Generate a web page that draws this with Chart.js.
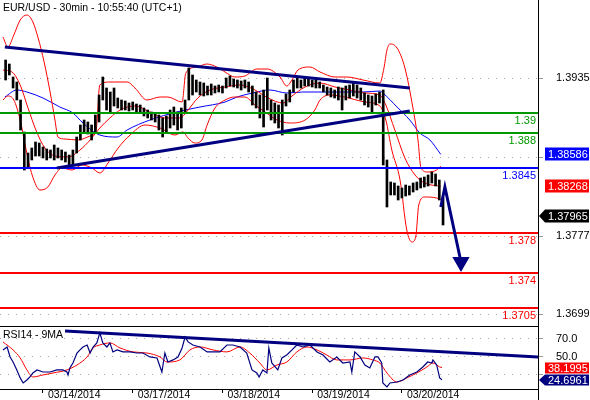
<!DOCTYPE html>
<html>
<head>
<meta charset="utf-8">
<script src="https://cdn.jsdelivr.net/npm/chart.js@4.4.1/dist/chart.umd.min.js"></script>
<style>
  html, body { margin: 0; padding: 0; background: #fff; }
  #wrap { position: relative; width: 590px; height: 400px; overflow: hidden; font-family: "Liberation Sans", Arial, sans-serif; }
  #main { position: absolute; left: 0; top: 0; }
  #rsi { position: absolute; left: 0; top: 326px; }
  .lbl { position: absolute; left: 3px; font-size: 10.5px; color: #000; white-space: nowrap; }
</style>
</head>
<body>
<div id="wrap">
  <canvas id="main" width="590" height="326"></canvas>
  <canvas id="rsi" width="590" height="74"></canvas>
  <div class="lbl" style="top:1px">EUR/USD - 30min - 10:55:40 (UTC+1)</div>
  <div class="lbl" style="top:328px">RSI14 - 9MA</div>
</div>
<script>
// Час у годинах від 03/14 00:00 (вихідні пропущено)
const dayLabels = ['03/14/2014', '03/17/2014', '03/18/2014', '03/19/2014', '03/20/2014'];
const dayHours = [0, 24, 48, 72, 96];
const priceTicks = [1.3699, 1.3777, 1.3856, 1.3935];
const rsiTicks = [30, 50, 70];

// Годинні бари: перший бар = -10 год.
const barStart = -10;
const priceHigh = [
  1.3953, 1.3949, 1.3936, 1.3931, 1.3913, 1.3881, 1.3860, 1.3865, 1.3871, 1.3870,
  1.3866, 1.3864, 1.3863, 1.3868, 1.3865, 1.3863, 1.3861, 1.3858, 1.3863, 1.3876,
  1.3888, 1.3893, 1.3891, 1.3888, 1.3898, 1.3918, 1.3936, 1.3925, 1.3921, 1.3925,
  1.3915, 1.3913, 1.3912, 1.3910, 1.3911, 1.3909, 1.3908, 1.3905, 1.3903, 1.3901,
  1.3900, 1.3898, 1.3895, 1.3897, 1.3903, 1.3906, 1.3901, 1.3905, 1.3913, 1.3945,
  1.3938, 1.3933, 1.3931, 1.3930, 1.3927, 1.3929, 1.3927, 1.3928, 1.3927, 1.3935,
  1.3937, 1.3934, 1.3933, 1.3932, 1.3933, 1.3931, 1.3927, 1.3921, 1.3918, 1.3923,
  1.3935, 1.3913, 1.3910, 1.3908, 1.3913, 1.3919, 1.3923, 1.3933, 1.3935, 1.3933,
  1.3935, 1.3934, 1.3933, 1.3933, 1.3931, 1.3928, 1.3926, 1.3925, 1.3923, 1.3926,
  1.3925, 1.3927, 1.3928, 1.3930, 1.3928, 1.3925, 1.3920, 1.3918, 1.3917, 1.3919,
  1.3921, 1.3923, 1.3853, 1.3831, 1.3830, 1.3827, 1.3825, 1.3828, 1.3827, 1.3830,
  1.3831, 1.3835, 1.3836, 1.3838, 1.3841, 1.3839, 1.3833, 1.3815
];
const priceLow = [
  1.3933, 1.3938, 1.3925, 1.3913, 1.3883, 1.3843, 1.3846, 1.3853, 1.3857, 1.3857,
  1.3855, 1.3853, 1.3855, 1.3853, 1.3855, 1.3853, 1.3851, 1.3847, 1.3848, 1.3860,
  1.3873, 1.3880, 1.3879, 1.3873, 1.3880, 1.3891, 1.3913, 1.3903, 1.3901, 1.3907,
  1.3905, 1.3903, 1.3903, 1.3902, 1.3903, 1.3901, 1.3901, 1.3897, 1.3895, 1.3893,
  1.3891, 1.3883, 1.3876, 1.3881, 1.3885, 1.3888, 1.3883, 1.3885, 1.3901, 1.3913,
  1.3918, 1.3921, 1.3918, 1.3917, 1.3918, 1.3918, 1.3920, 1.3921, 1.3920, 1.3925,
  1.3927, 1.3926, 1.3925, 1.3923, 1.3925, 1.3921, 1.3908, 1.3905, 1.3895, 1.3886,
  1.3903, 1.3893, 1.3890, 1.3885, 1.3878, 1.3907, 1.3911, 1.3921, 1.3925, 1.3925,
  1.3927, 1.3927, 1.3926, 1.3925, 1.3925, 1.3921, 1.3918, 1.3916, 1.3915, 1.3913,
  1.3903, 1.3913, 1.3915, 1.3917, 1.3915, 1.3913, 1.3908, 1.3906, 1.3901, 1.3908,
  1.3910, 1.3848, 1.3806, 1.3818, 1.3818, 1.3813, 1.3815, 1.3817, 1.3818, 1.3821,
  1.3823, 1.3825, 1.3826, 1.3827, 1.3830, 1.3827, 1.3813, 1.3788
];

// Смуги Боллінджера та ковзна середня: [година, ціна]
const bbUpper = [
  [-10.7, 1.3976], [-9.4, 1.3966], [-7.8, 1.3978], [-6.1, 1.3993], [-4.3, 1.3998], [-2.7, 1.3991],
  [-1.3, 1.3975], [0.3, 1.3951], [1.9, 1.3921], [3.2, 1.3893], [4.0, 1.3876], [5.9, 1.3874],
  [9.4, 1.3873], [12.6, 1.3877], [14.2, 1.3883], [15.2, 1.3928], [17.9, 1.3931], [22.5, 1.3931],
  [24.6, 1.3925], [27.8, 1.3913], [31.3, 1.3916], [33.4, 1.3916], [37.2, 1.3911], [38.2, 1.3940],
  [41.2, 1.3946], [43.8, 1.3949], [46.5, 1.3946], [48.7, 1.3941], [51.3, 1.3936], [54.0, 1.3937],
  [57.2, 1.3944], [59.9, 1.3944], [63.4, 1.3936], [65.2, 1.3927], [66.6, 1.3933], [68.2, 1.3943],
  [71.4, 1.3946], [74.1, 1.3941], [78.1, 1.3936], [81.3, 1.3936], [85.6, 1.3933], [90.1, 1.3930],
  [91.2, 1.3945], [92.0, 1.3963], [92.8, 1.3969], [94.7, 1.3965], [96.8, 1.3945], [98.9, 1.3906],
  [100.3, 1.3873], [101.1, 1.3845], [102.9, 1.3841], [105.3, 1.3843], [106.4, 1.3847]
];
const bbMid = [
  [-10.7, 1.3943], [-8.3, 1.3941], [-6.1, 1.3928], [-4.0, 1.3905], [-1.9, 1.3883], [0.5, 1.3865],
  [3.2, 1.3857], [6.7, 1.3856], [9.9, 1.3863], [12.6, 1.3873], [15.2, 1.3885], [17.9, 1.3895],
  [20.6, 1.3903], [24.6, 1.3907], [28.6, 1.3901], [32.6, 1.3895], [36.6, 1.3895], [38.8, 1.3903],
  [41.4, 1.3915], [44.7, 1.3923], [48.7, 1.3926], [52.7, 1.3928], [56.7, 1.3923], [60.2, 1.3915],
  [64.2, 1.3910], [66.6, 1.3917], [70.1, 1.3926], [74.1, 1.3930], [78.1, 1.3926], [82.1, 1.3923],
  [86.1, 1.3920], [90.1, 1.3918], [91.7, 1.3908], [94.1, 1.3883], [96.8, 1.3855], [99.5, 1.3838],
  [102.1, 1.3830], [106.4, 1.38268]
];
const bbLower = [
  [-10.7, 1.3913], [-9.4, 1.3917], [-7.8, 1.3913], [-6.1, 1.3893], [-4.5, 1.3863], [-2.9, 1.3838],
  [-0.8, 1.3823], [1.3, 1.3826], [3.2, 1.3838], [5.1, 1.3845], [7.8, 1.3843], [10.4, 1.3848],
  [13.1, 1.3845], [15.2, 1.3840], [17.4, 1.3850], [20.1, 1.3865], [23.3, 1.3878], [27.3, 1.3888],
  [31.3, 1.3885], [35.3, 1.3878], [37.4, 1.3881], [38.8, 1.3875], [40.6, 1.3870], [42.5, 1.3873],
  [43.9, 1.3888], [46.0, 1.3905], [48.7, 1.3913], [51.3, 1.3916], [54.0, 1.3916], [56.7, 1.3908],
  [59.4, 1.3901], [62.6, 1.3893], [66.0, 1.3890], [70.1, 1.3893], [72.7, 1.3903], [74.1, 1.3913],
  [76.7, 1.3918], [80.7, 1.3916], [86.1, 1.3911], [90.1, 1.3907], [91.7, 1.3893], [93.3, 1.3863],
  [95.5, 1.3833], [97.3, 1.3783], [98.7, 1.3771], [99.7, 1.3776], [100.5, 1.3808], [102.1, 1.3816],
  [105.3, 1.3815], [106.4, 1.3813]
];
const maBlue = [
  [-10.2, 1.3916], [-7.0, 1.3923], [-4.3, 1.3921], [0, 1.3915], [4.5, 1.3906], [8.0, 1.3900],
  [10.7, 1.3890], [15.2, 1.3878], [19.8, 1.3876], [22.5, 1.3883], [28.6, 1.3893], [35.8, 1.3901],
  [42.0, 1.3906], [48.7, 1.3911], [51.9, 1.3916], [56.1, 1.3920], [60.7, 1.3923], [65.2, 1.3920],
  [69.5, 1.3921], [78.1, 1.3921], [85.6, 1.3921], [90.1, 1.3922], [90.9, 1.3920], [94.7, 1.3906],
  [98.1, 1.3893], [100.8, 1.3880], [103.5, 1.3873], [106.4, 1.38586]
];

// Лінії тренду, стрілка та рівні
const upperTrend = [[-10.2, 1.3966], [98.1, 1.3925]];
const lowerTrend = [[3.7, 1.3845], [98.1, 1.3902]];
const arrowPath = [[106.4, 1.3806], [107.5, 1.3826], [111.8, 1.3751]];
const levelValues = [1.39, 1.388, 1.3845, 1.378, 1.374, 1.3705];
const levelColors = ['#009900', '#009900', '#0000ff', '#ff0000', '#ff0000', '#ff0000'];
const lastClose = 1.37965;
const lastMa = 1.38586;
const lastMid = 1.38268;

// RSI14 та його 9MA: [година, значення]
const rsiLine = [
  [-10.7, 57.8], [-9.6, 61.1], [-8.8, 50.0], [-8.0, 44.4], [-7.0, 35.6], [-6.1, 26.7], [-5.3, 21.1],
  [-4.3, 24.4], [-3.5, 27.8], [-2.7, 32.2], [-1.6, 35.6], [0, 33.3], [1.9, 33.3], [3.7, 35.6],
  [5.3, 35.6], [6.4, 33.3], [6.7, 30.0], [7.2, 37.8], [8.0, 43.3], [9.1, 54.4], [9.9, 57.8],
  [10.7, 61.1], [11.8, 63.3], [12.6, 54.4], [13.4, 61.1], [14.4, 65.6], [15.2, 76.7], [16.0, 65.6],
  [17.1, 61.1], [17.9, 65.6], [18.7, 55.6], [19.8, 57.8], [21.4, 55.6], [23.3, 55.6], [25.1, 54.4],
  [26.7, 54.4], [28.6, 50.0], [30.5, 48.9], [31.8, 33.3], [32.6, 54.4], [33.4, 44.4], [34.8, 46.7],
  [36.1, 50.0], [37.2, 60.0], [38.0, 72.2], [38.8, 66.7], [40.1, 63.3], [42.0, 61.1], [43.9, 55.6],
  [45.5, 55.6], [47.3, 55.6], [49.2, 63.3], [50.8, 63.3], [52.7, 61.1], [54.5, 54.4], [55.9, 35.6],
  [57.2, 32.2], [57.8, 27.8], [58.8, 35.6], [59.9, 32.2], [60.4, 60.0], [61.2, 43.3], [62.8, 35.6],
  [63.9, 48.9], [65.2, 52.2], [66.6, 57.8], [67.9, 63.3], [69.5, 61.1], [71.4, 63.3], [73.3, 55.6],
  [74.9, 52.2], [76.7, 44.4], [78.6, 50.0], [80.2, 43.3], [82.1, 44.4], [82.6, 33.3], [83.4, 55.6],
  [84.8, 50.0], [86.1, 41.1], [87.4, 37.8], [88.8, 50.0], [89.6, 50.0], [90.6, 43.3], [90.9, 21.1],
  [92.0, 16.7], [92.8, 21.1], [94.7, 22.2], [96.3, 24.4], [98.1, 30.0], [100.0, 33.3], [101.6, 38.9],
  [102.9, 44.4], [104.0, 43.3], [104.3, 46.7], [105.3, 41.1], [106.1, 26.7], [106.7, 24.6961]
];
const rsiMa = [
  [-10.7, 66.7], [-8.0, 57.8], [-6.1, 48.9], [-4.3, 35.6], [-2.7, 27.8], [0, 30.0], [2.7, 32.2],
  [6.4, 35.6], [9.1, 41.1], [11.8, 50.0], [13.4, 60.0], [15.2, 63.3], [17.9, 65.6], [20.6, 60.0],
  [24.1, 55.6], [27.8, 54.4], [31.3, 50.0], [33.2, 44.4], [36.6, 46.7], [39.3, 57.8], [42.0, 61.1],
  [45.5, 57.8], [49.2, 55.6], [52.7, 61.1], [55.3, 54.4], [58.0, 43.3], [59.9, 35.6], [62.6, 41.1],
  [65.2, 44.4], [67.9, 55.6], [70.6, 61.1], [73.3, 57.8], [75.9, 52.2], [78.6, 46.7], [82.1, 46.7],
  [85.6, 48.9], [88.2, 46.7], [90.1, 43.3], [92.0, 32.2], [94.7, 22.2], [97.3, 26.7], [100.0, 32.2],
  [102.7, 38.9], [104.3, 43.3], [106.1, 38.9], [106.7, 38.1995]
];
const rsiTrend = [[5.9, 78.9], [132.4, 50.0]];

const X_MIN = -11.5;
const X_MAX = 132.4;
const FONT = '"Liberation Sans", Arial, sans-serif';
const NAVY = '#000080';

Chart.defaults.font.family = FONT;

const pts = arr => arr.map(([x, y]) => ({ x, y }));

function lineSet(data, color, width, order, extra) {
  return Object.assign({
    type: 'line', data: pts(data), borderColor: color, backgroundColor: color,
    borderWidth: width, pointRadius: 0, fill: false, order
  }, extra || {});
}

// Фіксує ширину правої осі та прибирає зайві відступи
function fitRight(scale) {
  scale.width = 52;
  scale.paddingTop = 0;
  scale.paddingBottom = 0;
}

// Малює плашку з останнім значенням на правій осі
function drawValueBox(chart, value, text, color, arrow, h) {
  const { ctx, chartArea, scales: { y } } = chart;
  const cy = Math.round(y.getPixelForValue(value));
  const left = chartArea.right + 7;
  const right = 589;
  const top = cy - h / 2;
  ctx.save();
  ctx.fillStyle = color;
  ctx.beginPath();
  if (arrow) {
    ctx.moveTo(chartArea.right + 1, cy);
    ctx.lineTo(left, top);
    ctx.lineTo(right, top);
    ctx.lineTo(right, top + h);
    ctx.lineTo(left, top + h);
  } else {
    ctx.rect(left, top, right - left, h);
  }
  ctx.closePath();
  ctx.fill();
  ctx.fillStyle = '#fff';
  ctx.font = '11px ' + FONT;
  ctx.textAlign = 'left';
  ctx.textBaseline = 'middle';
  ctx.fillText(text, left + 3, cy + 0.5);
  ctx.restore();
}

const mainOverlay = {
  id: 'mainOverlay',
  afterDatasetsDraw(chart) {
    const { ctx, chartArea, scales: { y } } = chart;
    ctx.save();
    ctx.font = '11px ' + FONT;
    ctx.textAlign = 'right';
    ctx.textBaseline = 'top';
    levelValues.forEach((v, i) => {
      ctx.fillStyle = levelColors[i];
      ctx.fillText(String(v), chartArea.right - 2, Math.round(y.getPixelForValue(v)) + 2);
    });
    ctx.restore();
  },
  afterDraw(chart) {
    drawValueBox(chart, lastMa, lastMa.toFixed(5), '#0000ff', false, 13);
    drawValueBox(chart, lastMid, lastMid.toFixed(5), '#ff0000', false, 13);
    drawValueBox(chart, lastClose, lastClose.toFixed(5), '#000000', true, 13);
  }
};

const rsiOverlay = {
  id: 'rsiOverlay',
  afterDraw(chart) {
    const { ctx, chartArea } = chart;
    ctx.save();
    ctx.strokeStyle = '#000';
    ctx.lineWidth = 1;
    ctx.beginPath();
    ctx.moveTo(0, 0.5);
    ctx.lineTo(chartArea.right + 1, 0.5);
    ctx.moveTo(chartArea.right + 0.5, chartArea.bottom);
    ctx.lineTo(chartArea.right + 0.5, chart.height);
    ctx.stroke();
    ctx.restore();
    const ma = rsiMa[rsiMa.length - 1][1];
    const rsi = rsiLine[rsiLine.length - 1][1];
    drawValueBox(chart, ma, ma.toFixed(4), '#ff0000', false, 11);
    drawValueBox(chart, rsi, rsi.toFixed(4), NAVY, true, 11);
  }
};

const yTickFont = { size: 11, family: FONT };

// Основна панель з ціною
const mainChart = new Chart(document.getElementById('main'), {
  type: 'line',
  data: {
    datasets: [
      lineSet(arrowPath, NAVY, 3, 0, {
        pointRadius: [0, 0, 7], pointStyle: 'triangle', rotation: 180,
        pointBackgroundColor: NAVY, pointBorderColor: NAVY
      }),
      lineSet(upperTrend, NAVY, 3, 0),
      lineSet(lowerTrend, NAVY, 3, 0),
      ...levelValues.map((v, i) => lineSet([[X_MIN, v], [X_MAX, v]], levelColors[i], 2, 1)),
      {
        type: 'bar',
        data: priceLow.map((lo, i) => ({ x: barStart + i, y: [lo, priceHigh[i]] })),
        backgroundColor: '#000',
        barThickness: 2,
        order: 2
      },
      lineSet(bbUpper, '#ff0000', 1, 3, { cubicInterpolationMode: 'monotone' }),
      lineSet(bbMid, '#ff0000', 1, 3, { cubicInterpolationMode: 'monotone' }),
      lineSet(bbLower, '#ff0000', 1, 3, { cubicInterpolationMode: 'monotone' }),
      lineSet(maBlue, '#0000ff', 1, 3, { cubicInterpolationMode: 'monotone' })
    ]
  },
  options: {
    responsive: false,
    animation: false,
    devicePixelRatio: 1,
    layout: { padding: 0, autoPadding: false },
    plugins: { legend: { display: false }, tooltip: { enabled: false } },
    scales: {
      x: { type: 'linear', display: false, min: X_MIN, max: X_MAX, offset: false, grid: { offset: false } },
      y: {
        position: 'right',
        min: 1.3687,
        max: 1.4013,
        afterBuildTicks: s => { s.ticks = priceTicks.map(v => ({ value: v })); },
        afterFit: fitRight,
        ticks: { color: '#000', font: yTickFont, padding: 13, callback: v => v.toFixed(4) },
        grid: { color: '#a8a8a8', tickLength: 5, tickColor: '#999', tickBorderDash: [] },
        border: { color: '#000', dash: [1, 7] }
      }
    }
  },
  plugins: [mainOverlay]
});

// Панель RSI
const rsiChart = new Chart(document.getElementById('rsi'), {
  type: 'line',
  data: {
    datasets: [
      lineSet(rsiTrend, NAVY, 3, 0),
      lineSet(rsiLine, NAVY, 1.2, 1),
      lineSet(rsiMa, '#ff0000', 1, 2, { cubicInterpolationMode: 'monotone' })
    ]
  },
  options: {
    responsive: false,
    animation: false,
    devicePixelRatio: 1,
    layout: { padding: 0, autoPadding: false },
    plugins: { legend: { display: false }, tooltip: { enabled: false } },
    scales: {
      x: {
        type: 'linear',
        min: X_MIN,
        max: X_MAX,
        offset: false,
        afterBuildTicks: s => { s.ticks = dayHours.map(v => ({ value: v })); },
        afterFit: s => { s.height = 11; s.paddingLeft = 0; s.paddingRight = 0; },
        ticks: {
          align: 'start', labelOffset: 5, padding: -4, maxRotation: 0, autoSkip: false,
          color: '#000', font: { size: 10.5, family: FONT },
          callback: v => dayLabels[dayHours.indexOf(v)]
        },
        grid: { drawOnChartArea: false, tickLength: 4, tickColor: '#000', offset: false },
        border: { color: '#000' }
      },
      y: {
        position: 'right',
        min: 14.4,
        max: 84.4,
        afterBuildTicks: s => { s.ticks = rsiTicks.map(v => ({ value: v })); },
        afterFit: fitRight,
        ticks: { color: '#000', font: yTickFont, padding: 13, callback: v => (v === 30 ? '' : v.toFixed(1)) },
        grid: { color: '#a8a8a8', tickLength: 5, tickColor: '#999', tickBorderDash: [] },
        border: { color: '#000', dash: [1, 7] }
      }
    }
  },
  plugins: [rsiOverlay]
});
</script>
</body>
</html>
